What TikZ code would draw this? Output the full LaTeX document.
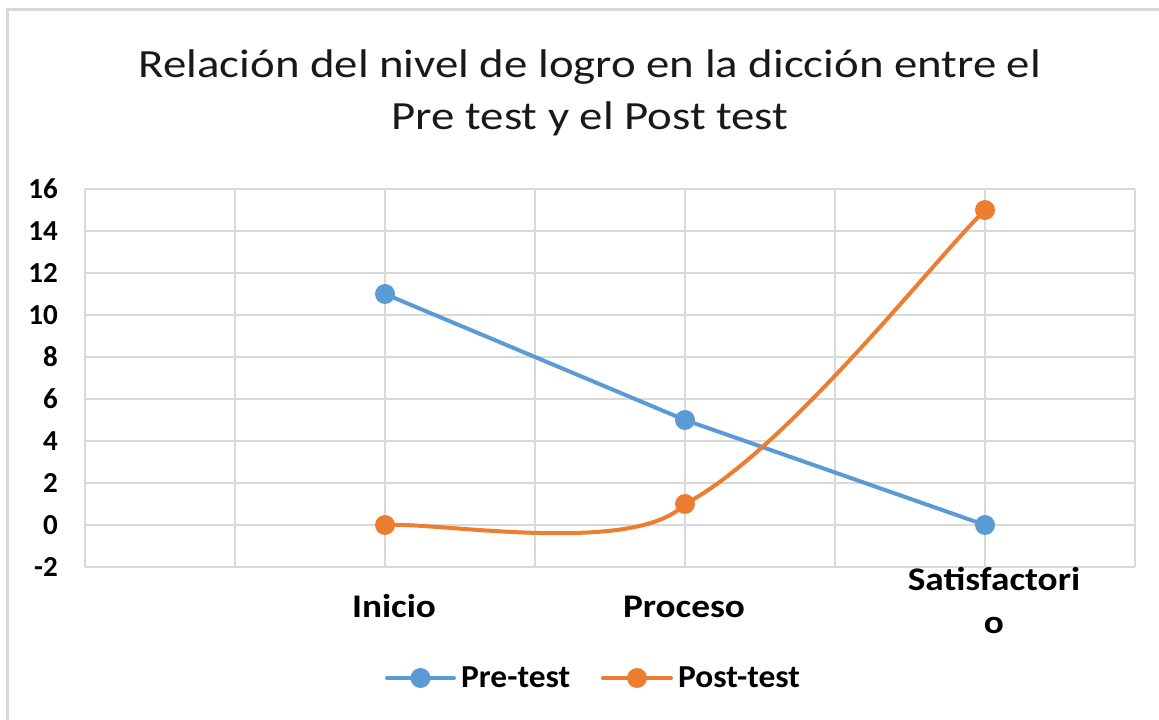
\documentclass[tikz,border=0pt]{standalone}
\usepackage{fontspec}
\setmainfont{Carlito}
\newfontfamily\titlefont[FakeStretch=1.17]{Carlito}
\newfontfamily\catfont[FakeStretch=1.13]{Carlito}
\newfontfamily\legendfont[FakeStretch=1.045]{Carlito}
\usetikzlibrary{calc}
\definecolor{preblue}{HTML}{5B9BD5}
\definecolor{postorange}{HTML}{ED7D31}
\definecolor{gridgray}{HTML}{D9D9D9}
\tikzset{
  gridline/.style={gridgray, line width=1.5pt},
  serie/.style={line width=4pt, line cap=round, line join=round},
  dot/.style={circle, fill=#1, inner sep=0pt, minimum size=20pt},
  ticklabel/.style={font=\fontsize{29}{35}\selectfont\bfseries, anchor=east, inner sep=0pt},
  catlabel/.style={font=\catfont\fontsize{33}{43}\selectfont\bfseries, anchor=base, inner sep=0pt, align=center},
  legendlabel/.style={font=\legendfont\fontsize{32}{38}\selectfont\bfseries, anchor=base west, inner sep=0pt},
  titletext/.style={font=\titlefont\fontsize{40}{52}\selectfont, text=black!90, anchor=base, inner sep=0pt},
}
\begin{document}
\begin{tikzpicture}[x=1pt,y=1pt]
  \useasboundingbox (0,0) rectangle (1159,720);
  % chart frame
  \draw[gridgray, line width=3pt] (7,0) -- (7,710) -- (1159,710);
  % title
  \node[titletext] (title1) at (590,642) {Relación del nivel de logro en la dicción entre el};
  \node[titletext] (title2) at (590,590) {Pre test y el Post test};
  \begin{scope}[shift={(85,195)}, x=150pt, y=21pt]
    \foreach \k in {0,...,7}
      \draw[gridline] (\k,-2) -- (\k,16);
    \foreach \v in {-2,0,...,16} {
      \draw[gridline] (0,\v) -- (7,\v);
      \node[ticklabel] (tick\v) at ([xshift=-27pt]0,\v) {\v};
    }
    \coordinate (pre1) at (2,11);
    \coordinate (pre2) at (4,5);
    \coordinate (pre3) at (6,0);
    \coordinate (post1) at (2,0);
    \coordinate (post2) at (4,1);
    \coordinate (post3) at (6,15);
    % smoothing handles
    \coordinate (postc1) at (2.333,0.167);
    \coordinate (postc2) at (3.667,-1.5);
    \coordinate (postc3) at (4.667,3.5);
    \coordinate (postc4) at (5.667,12.667);
  \end{scope}
  % series
  \draw[serie, preblue] (pre1) -- (pre2) -- (pre3);
  \foreach \i in {1,2,3}
    \node[dot=preblue] (mpre\i) at (pre\i) {};
  \draw[serie, postorange] (post1) .. controls (postc1) and (postc2) .. (post2)
    .. controls (postc3) and (postc4) .. (post3);
  \foreach \i in {1,2,3}
    \node[dot=postorange] (mpost\i) at (post\i) {};
  % categories
  \node[catlabel] (inicio) at (394,102) {Inicio};
  \node[catlabel] (proceso) at (684,102) {Proceso};
  \node[catlabel] (satisf) at (994,86) {Satisfactori\\o};
  % legend
  \coordinate (lpreA) at (387,42);
  \coordinate (lpreB) at (454,42);
  \coordinate (lpostA) at (603,42);
  \coordinate (lpostB) at (671,42);
  \draw[serie, preblue] (lpreA) -- (lpreB);
  \node[dot=preblue] (lpre) at ($(lpreA)!0.5!(lpreB)$) {};
  \draw[serie, postorange] (lpostA) -- (lpostB);
  \node[dot=postorange] (lpost) at ($(lpostA)!0.5!(lpostB)$) {};
  \node[legendlabel] (pretxt) at (461,32) {Pre-test};
  \node[legendlabel] (posttxt) at (678,32) {Post-test};
\end{tikzpicture}
\end{document}
